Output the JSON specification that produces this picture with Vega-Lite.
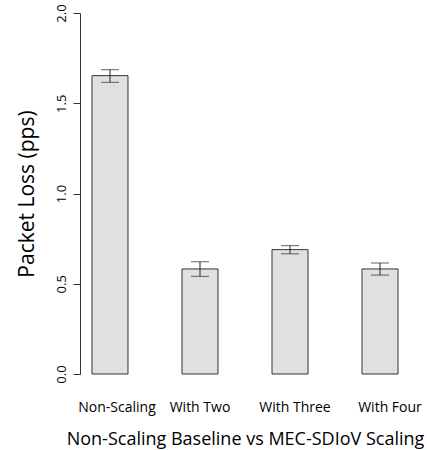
{
  "$schema": "https://vega.github.io/schema/vega-lite/v6.json",
  "autosize": {"type": "none"},
  "padding": {"left": 80, "top": 13, "right": 17, "bottom": 76},
  "width": 330,
  "height": 361,
  "config": {
    "font": "Open Sans",
    "view": {"stroke": null},
    "axis": {"grid": false}
  },
  "data": {
    "values": [
      {"category": "Non-Scaling", "value": 1.653, "lo": 1.616, "hi": 1.686},
      {"category": "With Two", "value": 0.582, "lo": 0.541, "hi": 0.622},
      {"category": "With Three", "value": 0.689, "lo": 0.666, "hi": 0.711},
      {"category": "With Four", "value": 0.582, "lo": 0.548, "hi": 0.615}
    ]
  },
  "encoding": {
    "x": {
      "field": "category",
      "type": "nominal",
      "sort": null,
      "scale": {"paddingInner": 0.6, "paddingOuter": 0.1333},
      "axis": {
        "title": "Non-Scaling Baseline vs MEC-SDIoV Scaling",
        "titleFontSize": 18,
        "titleFontWeight": "normal",
        "titleColor": "#000",
        "titleBaseline": "alphabetic",
        "titleY": 70,
        "domain": false,
        "ticks": false,
        "tickSize": 0,
        "labelAngle": 0,
        "labelFontSize": 14,
        "labelColor": "#000",
        "labelBaseline": "alphabetic",
        "labelPadding": 37,
        "labelOffset": {"expr": "datum.value == 'Non-Scaling' ? 7 : datum.value == 'With Two' ? 0 : datum.value == 'With Three' ? 5 : 10"}
      }
    }
  },
  "layer": [
    {
      "mark": {"type": "bar", "fill": "#e0e0e0", "stroke": "#333", "strokeWidth": 1},
      "encoding": {
        "y": {
          "field": "value",
          "type": "quantitative",
          "scale": {"domain": [0, 2], "nice": false, "zero": true},
          "axis": {
            "title": "Packet Loss (pps)",
            "titleFontSize": 21,
            "titleFontWeight": "normal",
            "titleColor": "#000",
            "titleAngle": -90,
            "titleAlign": "center",
            "titleBaseline": "alphabetic",
            "titleX": -47,
            "titleY": 180.5,
            "values": [0, 0.5, 1, 1.5, 2],
            "format": ".1f",
            "labelAngle": -90,
            "labelAlign": "center",
            "labelBaseline": "alphabetic",
            "labelFontSize": 13,
            "labelColor": "#000",
            "labelPadding": 8,
            "tickSize": 7,
            "tickColor": "#333",
            "domainColor": "#333"
          }
        }
      }
    },
    {
      "mark": {"type": "rule", "color": "#222", "strokeWidth": 1},
      "encoding": {
        "y": {"field": "lo", "type": "quantitative"},
        "y2": {"field": "hi"}
      }
    },
    {
      "mark": {"type": "tick", "color": "#222", "size": 18, "thickness": 1},
      "encoding": {
        "y": {"field": "hi", "type": "quantitative"}
      }
    },
    {
      "mark": {"type": "tick", "color": "#222", "size": 18, "thickness": 1},
      "encoding": {
        "y": {"field": "lo", "type": "quantitative"}
      }
    }
  ]
}
